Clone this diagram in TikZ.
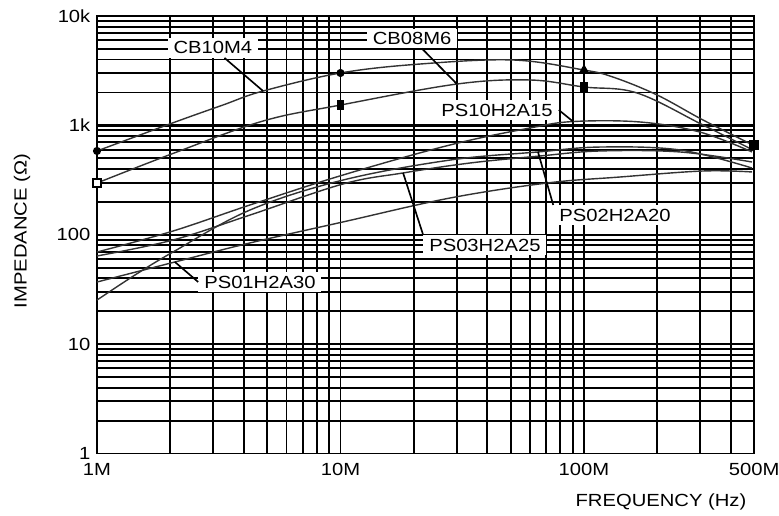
\documentclass[tikz,border=0pt]{standalone}
\usepackage{fontspec}
\setmainfont{Liberation Sans}[FakeStretch=1.15]
\usetikzlibrary{shapes.geometric}

\begin{document}
\begin{tikzpicture}[x=7.305cm,y=3.28125cm]
            \tikzstyle{gridline}=[draw=black,line width=1.6pt]
            \tikzstyle{heavy}=[draw=black,line width=3.2pt]
            \tikzstyle{trace}=[draw=black!80,line width=1.2pt]
            \tikzstyle{leader}=[draw=black,line width=1.4pt]
            \tikzstyle{tag}=[fill=white,inner xsep=5pt,inner ysep=3pt,font=\fontsize{15}{18}\selectfont]
            \tikzstyle{tick}=[inner sep=0pt,font=\fontsize{15}{18}\selectfont]
            \tikzstyle{dot}=[circle,fill=black,inner sep=0pt,minimum size=7pt]
            \tikzstyle{box}=[rectangle,fill=black,inner sep=0pt,minimum width=6pt,minimum height=9pt]
            \tikzstyle{openbox}=[rectangle,draw=black,line width=1.2pt,fill=white,inner sep=0pt,minimum size=7pt]
            \tikzstyle{tri}=[regular polygon,regular polygon sides=3,fill=black,inner sep=0pt,minimum size=10pt]

            \def\xmax{2.699}
            \def\ymax{4}

            \useasboundingbox (-0.3984,-0.5623) rectangle (2.8008,4.1463);

            % grid
            \foreach \d in {0,1,2,3}
                \foreach \m in {2,...,9}
                    \path[gridline] (0,{\d+log10(\m)}) -- (\xmax,{\d+log10(\m)});
            \foreach \d in {1,2}
                \path[gridline] (0,\d) -- (\xmax,\d);
            \path[heavy] (0,3) -- (\xmax,3);
            \foreach \m in {2,...,9} {
                \path[gridline] ({log10(\m)},0) -- ({log10(\m)},\ymax);
                \path[gridline] ({1+log10(\m)},0) -- ({1+log10(\m)},\ymax);
            }
            \path[gridline] (1,0) -- (1,\ymax);
            \foreach \m in {1,...,4}
                \path[gridline] ({2+log10(\m)},0) -- ({2+log10(\m)},\ymax);
            \path[gridline] (0,0) rectangle (\xmax,\ymax);

            % curves
            \path[trace] plot[smooth,tension=0.6] coordinates {(0,2.766) (0.320,3.030) (0.517,3.186) (0.682,3.314) (1,3.479) (1.327,3.561) (1.708,3.598) (2,3.506) (2.119,3.442) (2.300,3.278) (2.489,3.049) (2.694,2.820)};
            \path[trace] plot[smooth,tension=0.6] coordinates {(0,2.473) (0.320,2.750) (0.682,3.040) (1,3.186) (1.478,3.378) (1.778,3.415) (2,3.351) (2.218,3.296) (2.489,3.003) (2.694,2.775)};
            \path[trace] plot[smooth,tension=0.6] coordinates {(0,1.842) (0.312,2.034) (0.628,2.272) (1.010,2.546) (1.450,2.821) (1.778,2.976) (1.955,3.035) (2.230,3.031) (2.476,2.939) (2.690,2.757)};
            \path[trace] plot[smooth,tension=0.6] coordinates {(0,1.806) (0.312,1.952) (0.628,2.180) (1.010,2.464) (1.257,2.565) (1.532,2.656) (1.819,2.720) (2.066,2.766) (2.394,2.757) (2.690,2.665)};
            \path[trace] plot[smooth,tension=0.6] coordinates {(0,1.403) (0.156,1.632) (0.312,1.842) (0.628,2.226) (1.010,2.500) (1.450,2.683) (1.811,2.757) (2.066,2.802) (2.394,2.775) (2.690,2.610)};
            \path[trace] plot[smooth,tension=0.6] coordinates {(0,1.568) (0.320,1.751) (0.628,1.925) (1.010,2.117) (1.450,2.336) (1.848,2.473) (2.148,2.528) (2.489,2.583) (2.690,2.574)};

            % markers
            \node[dot] (mcb10a) at (0,2.766) {};
            \node[dot] (mcb10b) at (1,3.479) {};
            \node[tri] (mcb10c) at (2,3.506) {};
            \node[box,minimum width=9pt,minimum height=9pt] (mcb10d) at (\xmax,2.820) {};
            \node[openbox] (mcb08a) at (0,2.473) {};
            \node[box] (mcb08b) at (1,3.186) {};
            \node[box] (mcb08c) at (2,3.351) {};

            % points picked out by the tags
            \coordinate (pcb10) at (0.682,3.314);
            \coordinate (pcb08) at (1.478,3.378);
            \coordinate (pps10) at (1.955,3.035);
            \coordinate (pps02) at (1.811,2.757);
            \coordinate (pps03) at (1.257,2.565);
            \coordinate (pps01) at (0.320,1.751);

            \node[tag] (lcb10) at (0.476,3.708) {CB10M4};
            \node[tag] (lcb08) at (1.294,3.794) {CB08M6};
            \node[tag] (lps10) at (1.643,3.141) {PS10H2A15};
            \node[tag] (lps02) at (2.127,2.181) {PS02H2A20};
            \node[tag] (lps03) at (1.593,1.906) {PS03H2A25};
            \node[tag] (lps01) at (0.669,1.568) {PS01H2A30};

            \path[leader] (pcb10) -- (lcb10);
            \path[leader] (pcb08) -- (lcb08);
            \path[leader] (pps10) -- (lps10.east);
            \path[leader] (pps02) -- (lps02.north west);
            \path[leader] (pps03) -- (lps03.north west);
            \path[leader] (pps01) -- (lps01.west);

            % axes
            \node[tick,anchor=east,xshift=-5.5pt] (y0) at (0,0) {1};
            \node[tick,anchor=east,xshift=-5.5pt] (y1) at (0,1) {10};
            \node[tick,anchor=east,xshift=-5.5pt] (y2) at (0,2) {100};
            \node[tick,anchor=east,xshift=-5.5pt] (y3) at (0,3) {1k};
            \node[tick,anchor=east,xshift=-5.5pt] (y4) at (0,4) {10k};

            \node[tick,anchor=north,yshift=-8pt] (x0) at (0,0) {1M};
            \node[tick,anchor=north,yshift=-8pt] (x1) at (1,0) {10M};
            \node[tick,anchor=north,yshift=-8pt] (x2) at (2,0) {100M};
            \node[tick,anchor=north,yshift=-8pt] (x3) at (\xmax,0) {500M};

            \node[tick] (xlab) at (2.316,-0.443) {FREQUENCY (Hz)};
            \node[tick,rotate=90] (ylab) at (-0.308,2.034) {IMPEDANCE (Ω)};
        \end{tikzpicture}
\end{document}
